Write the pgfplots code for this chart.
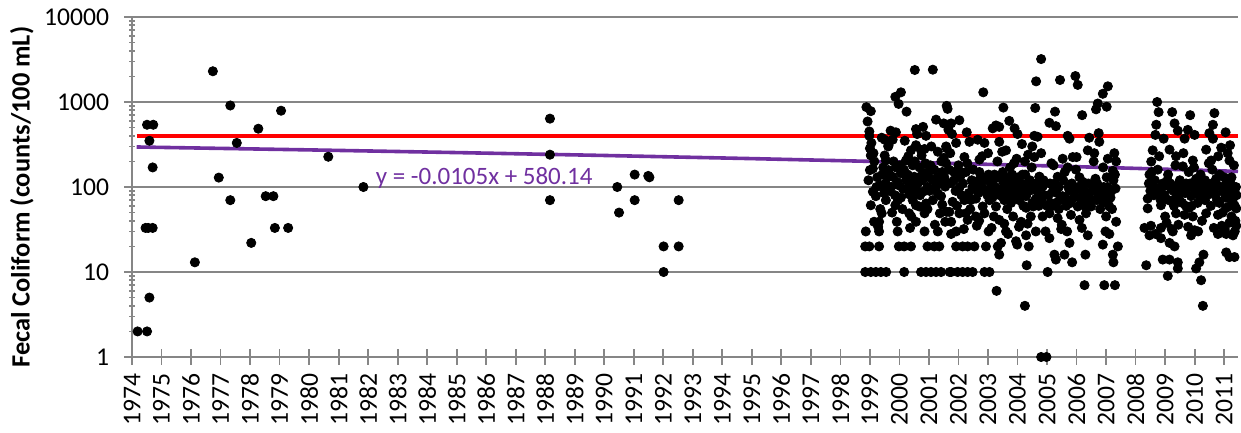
\documentclass[border=0pt]{standalone}
\usepackage{pgfplots}
\pgfplotsset{compat=1.18}
\usepackage{fontspec}
\setmainfont{Carlito}
\makeatletter
\renewcommand\normalsize{\@setfontsize\normalsize{12.8pt}{15pt}}
\makeatother
\definecolor{gridgray}{RGB}{134,134,134}
\definecolor{trendpurple}{RGB}{112,48,160}
\pgfplotstableread{
x y
1974.19 2
1974.51 2
1974.46 33
1974.55 33
1974.70 33
1974.51 540
1974.72 540
1974.59 350
1974.70 170
1974.59 5
1976.13 13
1976.74 2300
1976.94 129
1977.33 910
1977.33 70
1977.55 330
1978.04 22
1978.28 485
1978.53 78
1978.79 78
1978.84 33
1979.05 790
1979.29 33
1980.65 227
1981.84 100
1988.16 637
1988.16 240
1988.16 70
1990.44 100
1990.50 50
1991.03 140
1991.03 70
1991.49 135
1991.53 130
1992.01 20
1992.01 10
1992.52 70
1992.52 20
}\early
\pgfplotstableread{
x y
2000.52 2380
2001.13 2400
2000.05 1300
1999.86 1150
1999.97 950
2000.24 770
1998.88 870
1999.03 780
1998.92 590
2001.60 900
2001.24 620
2001.50 560
1998.98 450
1998.98 400
1999.70 460
1999.88 440
1999.40 380
1999.50 360
2000.56 480
2000.80 510
2000.90 400
2000.60 420
2001.66 470
1999.00 285
1999.03 235
1999.63 310
1999.50 235
2000.39 270
2000.56 310
2000.75 235
2001.60 285
2001.50 220
1999.00 158
1999.10 165
1999.63 158
1999.77 132
2000.05 145
2000.22 120
2000.50 132
2000.95 150
2001.13 120
1999.10 88
1999.37 105
1999.54 110
1999.97 105
2000.33 82
2000.56 96
2000.80 88
2001.30 84
2001.55 101
2001.66 110
1999.03 61
1999.54 70
1999.86 61
2000.33 49
2000.56 61
2000.90 64
2001.13 70
2001.37 49
2001.60 51
1999.40 49
1999.14 39
1999.31 39
1999.91 39
2000.56 39
2000.85 49
2001.55 39
1998.86 30
1999.31 30
1999.94 30
2000.85 30
2001.30 30
2001.75 28
1998.84 20
1998.98 20
1999.31 20
1999.98 20
2000.16 20
2000.39 20
2000.95 20
2001.18 20
2001.35 20
1998.84 10
1999.03 10
1999.20 10
1999.37 10
1999.55 10
2000.16 10
2000.73 10
2000.90 10
2001.07 10
2001.24 10
2001.41 10
2001.70 10
1999.77 360
1999.54 205
1999.88 170
2000.73 270
2000.22 205
2000.80 145
2001.24 101
2001.41 78
2000.33 101
2000.45 70
2000.67 59
1999.20 78
1999.25 130
1999.45 170
1999.65 90
1999.85 80
2000.05 75
2000.15 160
2000.30 230
2000.45 180
2000.65 130
2000.70 80
2000.95 100
2001.05 180
2001.30 260
2001.45 150
1999.15 200
1999.35 55
1999.75 50
2000.10 55
2000.40 45
2000.95 55
2001.45 62
1998.95 120
1999.05 330
1999.12 250
1999.22 100
1999.28 34
1999.42 140
1999.48 85
1999.58 130
1999.62 300
1999.72 100
1999.80 200
1999.92 115
1999.95 70
2000.02 180
2000.12 95
2000.18 350
2000.28 140
2000.36 33
2000.42 110
2000.48 85
2000.52 200
2000.62 110
2000.68 170
2000.78 120
2000.85 280
2000.88 190
2001.00 130
2001.02 90
2001.08 300
2001.18 160
2001.20 36
2001.28 130
2001.38 110
2001.42 200
2001.52 130
2001.58 190
2001.68 160
2002.84 1300
2004.80 3200
2004.63 1750
2003.52 860
2004.60 850
2001.63 830
2002.03 610
2001.75 560
2003.27 530
2003.72 600
2003.16 490
2003.38 510
2003.90 490
2004.00 420
2004.57 400
2002.28 440
2001.78 420
2001.58 300
2001.92 330
2002.37 340
2002.65 360
2002.88 330
2003.38 340
2003.61 270
2004.15 320
2004.50 300
2002.20 225
2002.71 210
2003.97 215
2004.57 225
2002.08 150
2002.71 150
2003.22 140
2004.17 140
2004.74 132
2001.75 112
2002.03 98
2002.48 101
2002.65 112
2002.93 92
2003.27 84
2003.61 101
2003.78 88
2003.90 120
2004.00 84
2004.29 78
2004.50 65
2004.68 112
2001.80 67
2002.20 70
2002.59 73
2002.82 59
2003.05 70
2003.27 59
2003.55 70
2003.78 65
2004.06 70
2004.29 57
2004.53 59
2001.69 51
2002.03 49
2002.31 41
2002.88 49
2003.38 41
2003.55 37
2004.12 39
2004.34 37
2001.75 39
2002.25 49
2002.59 45
2001.92 30
2003.02 30
2003.61 30
2004.29 27
2003.95 23
2003.44 22
2001.92 20
2002.14 20
2002.31 20
2002.54 20
2002.93 20
2003.33 20
2003.99 21
2004.38 20
2003.38 16
2001.75 10
2001.97 10
2002.14 10
2002.31 10
2002.48 10
2002.88 10
2003.05 10
2004.31 12
2003.29 6
2004.25 4
2004.80 1
2004.98 1
2002.45 120
2002.55 95
2002.75 130
2003.10 110
2003.15 75
2003.45 95
2003.50 150
2003.70 80
2003.85 105
2004.10 100
2004.20 60
2004.40 90
2004.45 45
2004.60 70
2004.90 80
2005.00 60
2005.20 90
2005.40 55
2005.45 70
2005.65 60
2005.90 75
2006.15 65
2006.25 90
2006.55 70
2006.60 100
2006.80 55
2007.05 100
2007.15 75
2007.20 55
2003.65 55
2003.85 45
2003.20 45
2002.70 40
2002.40 55
2002.10 80
2001.90 90
2001.85 150
2002.30 190
2003.00 250
2003.75 170
2004.25 200
2004.80 250
2005.15 190
2005.70 170
2006.10 130
2006.90 170
2007.25 120
2001.72 250
2001.85 120
2001.95 60
2002.00 180
2002.05 130
2002.15 110
2002.18 32
2002.25 150
2002.35 85
2002.42 70
2002.50 160
2002.60 115
2002.62 35
2002.68 85
2002.78 100
2002.80 230
2002.90 120
2002.98 80
2003.02 140
2003.08 95
2003.12 33
2003.18 120
2003.25 100
2003.32 200
2003.35 130
2003.40 80
2003.48 260
2003.52 115
2003.58 85
2003.62 130
2003.68 28
2003.72 110
2003.80 75
2003.82 140
2003.88 190
2003.95 95
2004.02 130
2004.05 34
2004.08 80
2004.14 110
2004.22 90
2004.26 140
2004.32 110
2004.36 240
2004.42 120
2004.48 170
2004.55 100
2004.62 30
2004.66 90
2004.72 60
2005.44 1815
2005.96 2020
2006.04 1590
2007.06 1530
2006.89 1250
2006.72 960
2007.02 880
2006.66 820
2005.27 770
2006.19 700
2005.08 570
2005.30 520
2004.68 390
2005.70 400
2005.76 370
2006.43 380
2006.75 430
2006.77 340
2006.38 270
2006.60 250
2005.53 215
2005.87 225
2006.00 225
2007.06 215
2007.23 155
2007.34 200
2004.74 132
2004.85 101
2005.36 132
2005.60 150
2006.21 115
2006.64 125
2007.32 96
2004.63 73
2005.14 59
2005.30 65
2005.53 78
2005.76 92
2006.04 59
2006.43 84
2006.72 84
2007.00 84
2006.49 59
2006.89 65
2007.11 59
2004.85 45
2005.08 49
2005.36 43
2005.81 47
2006.10 41
2006.32 49
2007.00 45
2007.34 39
2005.08 25
2005.48 32
2005.76 22
2006.38 27
2006.89 21
2007.11 28
2007.40 20
2005.30 14
2005.59 16
2005.85 13
2006.30 16
2007.23 16
2007.25 13
2005.25 16
2005.02 10
2006.27 7
2006.94 7
2007.30 7
2004.82 70
2004.88 120
2004.95 30
2005.05 80
2005.10 110
2005.12 65
2005.22 180
2005.26 110
2005.33 85
2005.40 100
2005.50 36
2005.55 120
2005.62 75
2005.68 30
2005.72 100
2005.80 65
2005.84 110
2005.95 90
2005.98 160
2006.06 100
2006.12 75
2006.18 33
2006.20 90
2006.28 60
2006.35 75
2006.40 110
2006.46 70
2006.52 90
2006.58 200
2006.68 70
2006.70 110
2006.78 90
2006.85 75
2006.92 100
2006.98 30
2007.02 130
2007.08 70
2007.18 90
2007.28 250
2007.30 140
2008.73 1000
2008.78 760
2009.24 760
2009.85 700
2010.67 740
2008.70 540
2009.32 560
2009.43 460
2009.77 470
2010.00 410
2008.67 410
2008.95 370
2009.66 370
2010.62 540
2010.50 430
2011.05 440
2010.62 370
2008.58 270
2009.15 275
2009.37 230
2010.39 275
2010.90 290
2011.20 310
2011.18 205
2009.94 205
2009.60 175
2008.53 199
2010.56 205
2008.47 140
2008.58 105
2009.03 105
2008.81 84
2009.43 105
2009.71 110
2010.05 125
2010.28 105
2010.73 125
2011.07 110
2011.30 92
2009.49 70
2009.88 78
2010.16 78
2008.41 73
2008.41 56
2008.86 61
2009.26 70
2009.37 49
2009.66 47
2009.82 57
2009.94 45
2010.39 49
2010.79 47
2011.07 57
2011.35 61
2011.18 38
2008.30 33
2008.47 27
2008.86 33
2008.86 25
2009.26 30
2009.15 22
2009.32 20
2009.88 27
2010.00 31
2010.79 28
2011.07 28
2011.30 27
2011.07 17
2011.18 15
2011.35 15
2008.36 12
2008.92 14
2009.15 14
2009.43 13
2009.43 11
2009.09 9
2010.05 11
2010.22 8
2010.30 16
2010.16 13
2010.28 4
2010.96 88
2011.30 78
2011.41 56
2011.41 35
2010.84 65
2010.73 110
2008.50 90
2008.65 120
2008.75 160
2008.90 100
2009.00 45
2009.10 140
2009.20 95
2009.30 60
2009.50 120
2009.55 85
2009.70 60
2009.80 150
2009.95 100
2010.10 65
2010.20 140
2010.35 70
2010.45 100
2010.55 60
2010.60 160
2010.70 80
2010.85 140
2010.95 50
2011.05 75
2011.15 95
2011.25 45
2011.38 40
2011.40 100
2011.25 130
2008.45 110
2008.52 35
2008.55 150
2008.62 80
2008.68 28
2008.72 95
2008.80 230
2008.85 70
2008.92 110
2008.98 80
2009.05 38
2009.08 120
2009.12 70
2009.18 110
2009.22 32
2009.28 90
2009.35 180
2009.40 80
2009.45 36
2009.52 100
2009.58 65
2009.62 250
2009.68 85
2009.75 95
2009.78 34
2009.85 110
2009.90 60
2009.98 170
2010.02 85
2010.08 100
2010.12 30
2010.18 110
2010.25 40
2010.30 90
2010.35 120
2010.42 80
2010.48 190
2010.52 85
2010.58 110
2010.65 33
2010.68 100
2010.76 70
2010.80 230
2010.88 100
2010.92 35
2011.00 130
2011.02 32
2011.10 85
2011.12 250
2011.20 60
2011.22 110
2011.28 70
2011.33 180
2011.36 30
2011.42 80
}\late
\begin{document}
\begin{tikzpicture}
\useasboundingbox (-66pt,-38pt) rectangle (554.5pt,178.5pt);
\begin{axis}[
  scale only axis, width=553pt, height=170pt,
  at={(0,0)}, anchor=south west,
  xmin=1974, xmax=2011.47, ymin=1, ymax=10000, ymode=log,
  clip=false,
  axis lines*=left,
  axis line style={gridgray, line width=0.9pt, -},
  ymajorgrids, major grid style={gridgray, line width=0.9pt},
  tick style={gridgray, line width=0.9pt},
  tick align=center, major tick length=8pt,
  minor tick num=0,
  tick label style={font=\normalsize},
  ytick={1,10,100,1000,10000},
  yticklabels={1,10,100,1000,10000},
  yticklabel style={anchor=east, xshift=-3pt},
  xtick={1974,1975,1976,1977,1978,1979,1980,1981,1982,1983,1984,1985,1986,1987,1988,1989,1990,1991,1992,1993,1994,1995,1996,1997,1998,1999,2000,2001,2002,2003,2004,2005,2006,2007,2008,2009,2010,2011},
  xticklabels={1974,1975,1976,1977,1978,1979,1980,1981,1982,1983,1984,1985,1986,1987,1988,1989,1990,1991,1992,1993,1994,1995,1996,1997,1998,1999,2000,2001,2002,2003,2004,2005,2006,2007,2008,2009,2010,2011},
  xticklabel style={rotate=90, anchor=east},
  ylabel={Fecal Coliform (counts/100 mL)},
  ylabel style={font=\fontsize{13.2}{15}\selectfont\bfseries, at={(axis description cs:-0.0995,0.47)}, anchor=center},
]
\addplot[only marks, mark=*, mark size=2.3pt, mark options={fill=black, draw=black}] table[x=x,y=y]{\early};
\addplot[only marks, mark=*, mark size=2.3pt, mark options={fill=black, draw=black}] table[x=x,y=y]{\late};
\addplot[red, line width=2pt] coordinates {(1974.16,400) (2011.47,400)};
\addplot[trendpurple, line width=1.8pt] coordinates {(1974.16,295.7) (1980,273.3) (1985,254.1) (1990,235.0) (1995,215.8) (2000,196.6) (2005,177.4) (2010,158.3) (2011.47,152.6)};
\node[anchor=west, text=trendpurple, inner sep=0pt, font=\fontsize{12.5}{15}\selectfont] at (axis cs:1982.25,128) {y = -0.0105x + 580.14};
\end{axis}
\end{tikzpicture}
\end{document}
